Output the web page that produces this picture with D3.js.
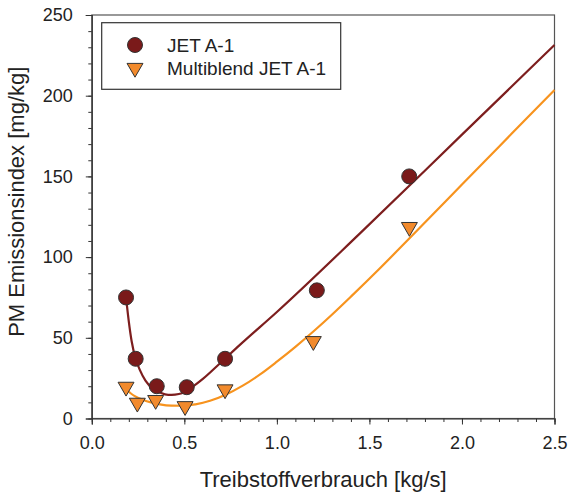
<!DOCTYPE html>
<html><head><meta charset="utf-8">
<script src="https://cdn.jsdelivr.net/npm/d3@7"></script>
<style>body{margin:0;background:#fff;}svg{display:block;font-family:"Liberation Sans",Arial,sans-serif;}</style>
</head><body><svg id="c" width="570" height="495"></svg>
<script>
// Measured data
const jetX = [0.185, 0.237, 0.351, 0.513, 0.72, 1.216, 1.715];
const jetY = [75, 37, 20, 19.4, 37, 79.4, 150];
const multiX = [0.185, 0.246, 0.345, 0.504, 0.72, 1.197, 1.716];
const multiY = [19.6, 9.7, 11.4, 7.6, 18, 47.9, 118.6];
// Fitted curves
const jetFitX = [0.185, 0.2, 0.215, 0.237, 0.26, 0.29, 0.33, 0.37, 0.413, 0.45, 0.486, 0.53, 0.6, 0.693, 0.8, 1.0, 1.449, 2.0, 2.5];
const jetFitY = [75, 60, 48, 37, 30, 23.5, 18.5, 16, 14.6, 14.8, 15.6, 18.5, 24.5, 34.2, 45.6, 66, 114.7, 175.9, 231.4];
const multiFitX = [0.19, 0.23, 0.278, 0.32, 0.368, 0.43, 0.494, 0.56, 0.639, 0.72, 0.818, 0.909, 1.0, 1.1, 1.2, 1.3, 1.4, 1.55, 1.71, 1.85, 2.0, 2.2, 2.35, 2.5];
const multiFitY = [17.5, 14, 11.5, 10, 8.8, 8, 7.9, 8.8, 11, 14.6, 20.5, 27.3, 35.2, 44.4, 54.2, 64.6, 75.5, 92.3, 110.9, 127.3, 145, 168.4, 186, 203.5];
const xTicks = [0, 0.5, 1.0, 1.5, 2.0, 2.5];
const yTicks = [0, 50, 100, 150, 200, 250];
const legendLabels = ["JET A-1", "Multiblend JET A-1"];
const xTitle = "Treibstoffverbrauch [kg/s]";
const yTitle = "PM Emissionsindex [mg/kg]";

const darkRed = "#7a1a1a", darkRedLine = "#7d1e1e";
const orange = "#f28a2c", orangeLine = "#f7931e";

const svg = d3.select("#c");
const L = 91.8, R = 554.5, T = 15, B = 418.5;
const x = d3.scaleLinear().domain([0, 2.5]).range([L, R]);
const y = d3.scaleLinear().domain([0, 250]).range([B, T]);

// frame
svg.append("rect").attr("x", L).attr("y", T).attr("width", R - L).attr("height", B - T)
  .attr("fill", "none").attr("stroke", "#555").attr("stroke-width", 1.2);

// axes
const xMinor = d3.range(0, 2.5001, 0.1);
const yMinor = d3.range(0, 250.1, 10);
const gx = svg.append("g").attr("transform", `translate(0,${B})`);
gx.call(d3.axisBottom(x).tickValues(xMinor).tickSize(3.5).tickFormat(""));
gx.call(g => g.select(".domain").remove());
const gx2 = svg.append("g").attr("transform", `translate(0,${B})`)
  .call(d3.axisBottom(x).tickValues(xTicks).tickSize(6).tickPadding(12).tickFormat(d3.format(".1f")));
gx2.selectAll("text").attr("font-size", 18).attr("fill", "#222").attr("font-family", "Liberation Sans, Arial, sans-serif");

const gy = svg.append("g").attr("transform", `translate(${L},0)`);
gy.call(d3.axisLeft(y).tickValues(yMinor).tickSize(3.5).tickFormat(""));
gy.call(g => g.select(".domain").remove());
const gy2 = svg.append("g").attr("transform", `translate(${L},0)`)
  .call(d3.axisLeft(y).tickValues(yTicks).tickSize(6).tickPadding(13).tickFormat(d3.format("d")));
gy2.selectAll("text").attr("font-size", 18).attr("fill", "#222").attr("font-family", "Liberation Sans, Arial, sans-serif");
svg.selectAll(".tick line").attr("stroke", "#333");
svg.selectAll(".domain").attr("stroke", "#333").attr("stroke-width", 1.2);

// titles
svg.append("text").attr("x", (L + R) / 2).attr("y", 487).attr("text-anchor", "middle")
  .attr("font-size", 22).attr("fill", "#222").text(xTitle);
svg.append("text").attr("transform", `translate(24,${(T + B) / 2 - 15}) rotate(-90)`).attr("text-anchor", "middle")
  .attr("font-size", 22).attr("fill", "#222").text(yTitle);

// curves
const line = d3.line().x(d => x(d[0])).y(d => y(d[1])).curve(d3.curveMonotoneX);
svg.append("path").datum(multiFitX.map((v, i) => [v, multiFitY[i]]))
  .attr("d", line).attr("fill", "none").attr("stroke", orangeLine).attr("stroke-width", 2.2);
svg.append("path").datum(jetFitX.map((v, i) => [v, jetFitY[i]]))
  .attr("d", line).attr("fill", "none").attr("stroke", darkRedLine).attr("stroke-width", 2.2);

// markers
const tri = d3.symbol().type(d3.symbolTriangle).size(110);
svg.append("g").selectAll("path").data(multiX.map((v, i) => [v, multiY[i]])).join("path")
  .attr("d", tri).attr("transform", d => `translate(${x(d[0])},${y(d[1])}) rotate(180)`)
  .attr("fill", orange).attr("stroke", "#333").attr("stroke-width", 1);
svg.append("g").selectAll("circle").data(jetX.map((v, i) => [v, jetY[i]])).join("circle")
  .attr("cx", d => x(d[0])).attr("cy", d => y(d[1])).attr("r", 7.5)
  .attr("fill", darkRed).attr("stroke", "#333").attr("stroke-width", 1);

// legend
const lg = svg.append("g");
lg.append("rect").attr("x", 101.7).attr("y", 22.7).attr("width", 239).attr("height", 66.6)
  .attr("fill", "#fff").attr("stroke", "#333").attr("stroke-width", 1.2);
lg.append("circle").attr("cx", 135).attr("cy", 45).attr("r", 7.5).attr("fill", darkRed).attr("stroke", "#333");
lg.append("path").attr("d", tri).attr("transform", "translate(135,68) rotate(180)").attr("fill", orange).attr("stroke", "#333");
legendLabels.forEach((t, i) => {
  lg.append("text").attr("x", 167).attr("y", 52 + i * 22.5).attr("font-size", 19).attr("fill", "#222").text(t);
});
</script></body></html>
